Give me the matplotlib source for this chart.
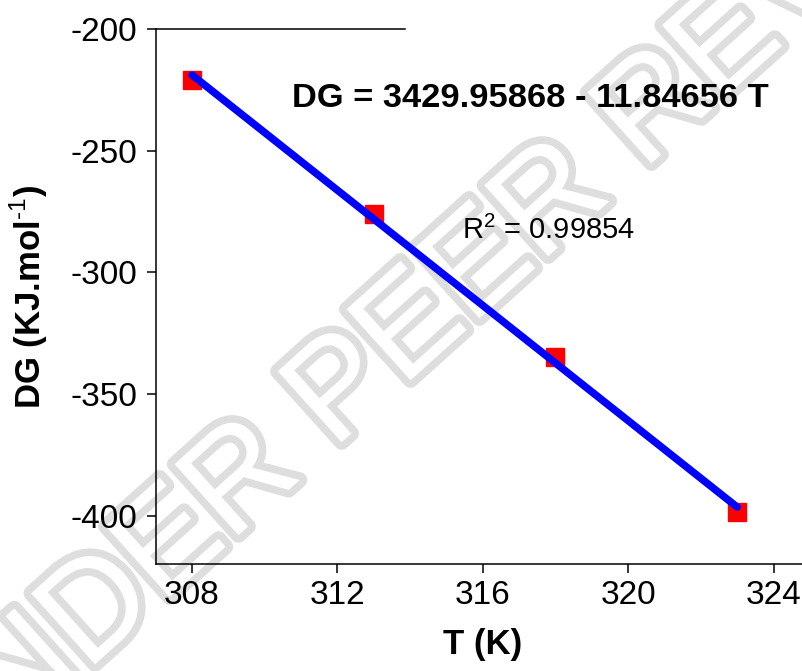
import matplotlib
matplotlib.use('Agg')
import matplotlib.pyplot as plt
import matplotlib.patheffects as pe
import numpy as np

# Gibbs free energy versus temperature
temperature = [308, 313, 318, 323]
delta_g = [-220.8, -276.1, -334.6, -398.3]

# Linear fit DG = a + b T
intercept = 3429.95868
slope = -11.84656
r_squared = 0.99854

x_ticks = [308, 312, 316, 320, 324]
y_ticks = [-200, -250, -300, -350, -400]

plt.rcParams['font.family'] = ['Liberation Sans', 'DejaVu Sans']
plt.rcParams['mathtext.fontset'] = 'custom'
plt.rcParams['mathtext.rm'] = 'Liberation Sans'
plt.rcParams['mathtext.bf'] = 'Liberation Sans:bold'
plt.rcParams['axes.unicode_minus'] = False

fig = plt.figure(figsize=(8.03, 6.71), dpi=100)
ax = fig.add_axes([0.1939, 0.159, 0.8061, 0.7973])

# hollow background watermark (outline stroke, white glyph fill)
ax.text(0.585, 0.585, 'UNDER PEER REVIEW', transform=fig.transFigure,
        rotation=42, fontsize=100, ha='center', va='center', color='white',
        path_effects=[pe.Stroke(linewidth=11, foreground='#dedede'),
                      pe.Normal()],
        zorder=0.5, clip_on=False)

ax.plot(temperature, delta_g, linestyle='none', marker='s', markersize=13.5,
        markerfacecolor='#ff0000', markeredgecolor='#ff0000', zorder=3)

fit_t = np.array([temperature[0], temperature[-1]])
ax.plot(fit_t, intercept + slope * fit_t, color='#0000ff', linewidth=5.4,
        solid_capstyle='round', zorder=4)

ax.set_xlim(307.0, 324.81)
ax.set_ylim(-420, -200)
ax.set_xticks(x_ticks)
ax.set_yticks(y_ticks)

ax.spines['right'].set_visible(False)
ax.spines['top'].set_bounds(307.0, 313.85)
for side in ('left', 'bottom', 'top'):
    ax.spines[side].set_linewidth(1.1)

ax.tick_params(axis='both', direction='out', length=6.5, width=1.1,
               labelsize=24, top=False, right=False)
ax.tick_params(axis='x', pad=5)
ax.tick_params(axis='y', pad=7)

ax.set_xlabel('T (K)', fontsize=25, fontweight='bold')
ax.xaxis.set_label_coords(0.5056, -0.119)
ax.set_ylabel(r'DG (KJ.mol$^{\text{-1}}$)', fontsize=25, fontweight='bold')
ax.yaxis.set_label_coords(-0.163, 0.5)

ax.text(310.74, -231.8, 'DG = %.5f - %.5f T' % (intercept, -slope),
        fontsize=24.8, fontweight='bold', ha='left', va='baseline', zorder=5)
ax.text(315.42, -286.3, r'R$^2$ = %.5f' % r_squared, fontsize=21,
        ha='left', va='baseline', zorder=5)

fig.savefig('out.png', dpi=100)
